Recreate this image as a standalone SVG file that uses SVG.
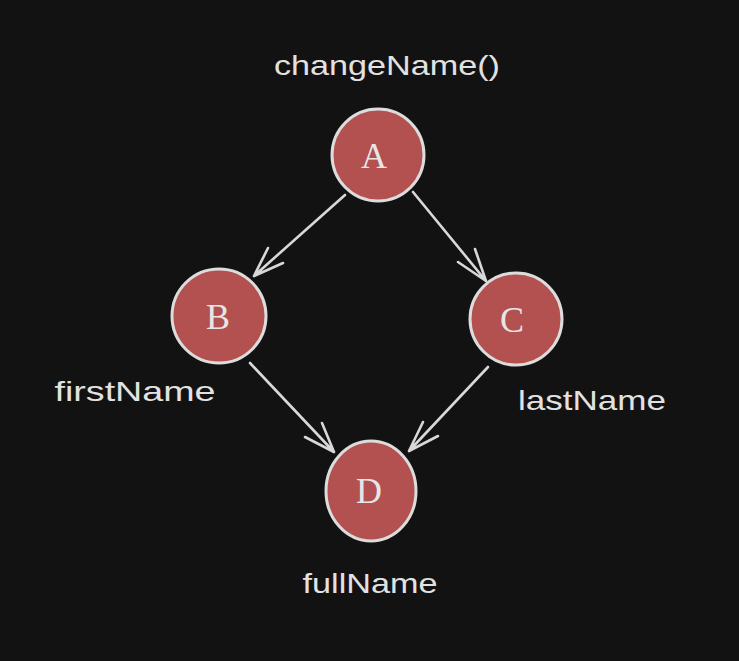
<svg xmlns="http://www.w3.org/2000/svg" width="739" height="661" viewBox="0 0 739 661">
<style>
.node{fill:#b35050;stroke:#dcdcdc;stroke-width:3}
.lbl{font-family:"Liberation Sans","DejaVu Sans",sans-serif;font-size:28px;fill:#e2e2e2;text-anchor:middle}
.ltr{font-family:"Liberation Serif","DejaVu Serif",serif;font-size:36px;fill:#e6e6e6;text-anchor:middle}
.edge{stroke:#d8d8d8;stroke-width:2.6;fill:none;stroke-linecap:round;stroke-linejoin:round}
</style>
<rect width="739" height="661" fill="#121212"/>
<g id="connectors">
<path class="edge" d="M345,195 L254,276 M268,248 L254,276 L283,263"/>
<path class="edge" d="M413,192 L486,281 M475,249 L486,281 L458,262"/>
<path class="edge" d="M250,363 L334,452 M322,423 L334,452 L305,437"/>
<path class="edge" d="M488,367 L409,451 M423,422 L409,451 L438,436"/>
</g>
<g id="A">
<circle class="node" cx="378" cy="155" r="46"/>
<text class="ltr" x="374" y="168">A</text>
<text class="lbl" x="387" y="75" textLength="226" lengthAdjust="spacingAndGlyphs">changeName()</text>
</g>
<g id="B">
<circle class="node" cx="219" cy="316" r="47"/>
<text class="ltr" x="218" y="329">B</text>
<text class="lbl" x="135" y="401" textLength="161" lengthAdjust="spacingAndGlyphs">firstName</text>
</g>
<g id="C">
<circle class="node" cx="516" cy="319" r="46"/>
<text class="ltr" x="512" y="332">C</text>
<text class="lbl" x="592" y="410" textLength="148" lengthAdjust="spacingAndGlyphs">lastName</text>
</g>
<g id="D">
<ellipse class="node" cx="371" cy="491" rx="45" ry="50"/>
<text class="ltr" x="369" y="503">D</text>
<text class="lbl" x="370" y="593" textLength="135" lengthAdjust="spacingAndGlyphs">fullName</text>
</g>
</svg>
